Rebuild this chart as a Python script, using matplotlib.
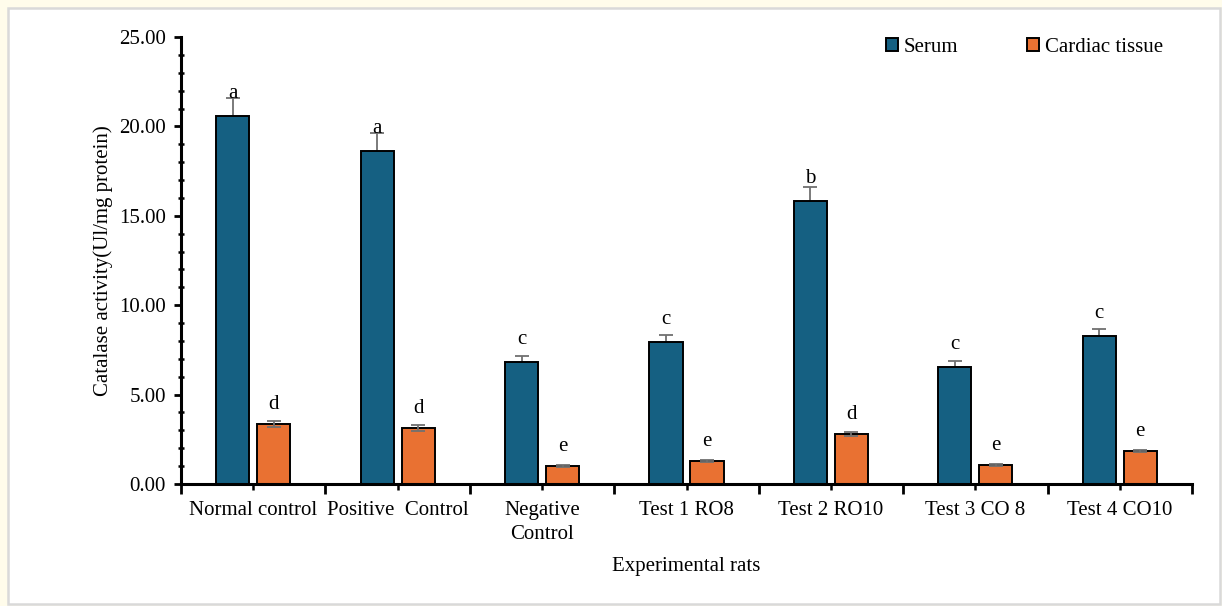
import matplotlib.pyplot as plt
import numpy as np
from matplotlib.ticker import MultipleLocator, FixedLocator, NullFormatter
from matplotlib.patches import Rectangle

categories = ["Normal control", "Positive  Control", "Negative\nControl", "Test 1 RO8",
              "Test 2 RO10", "Test 3 CO 8", "Test 4 CO10"]
serum = [20.58, 18.62, 6.82, 7.94, 15.83, 6.54, 8.28]
serum_err = [1.00, 1.00, 0.35, 0.40, 0.78, 0.35, 0.40]
cardiac = [3.36, 3.13, 1.00, 1.29, 2.80, 1.06, 1.85]
cardiac_err = [0.15, 0.15, 0.05, 0.07, 0.12, 0.05, 0.07]
serum_letters = ["a", "a", "c", "c", "b", "c", "c"]
cardiac_letters = ["d", "d", "e", "e", "d", "e", "e"]

plt.rcParams['font.family'] = ['Liberation Serif', 'DejaVu Serif']
FS = 15

W, H = 1222, 606
fig = plt.figure(figsize=(W / 100, H / 100), dpi=100, facecolor="#FFFCEB")
# white panel with a light grey frame
panel = Rectangle((8 / W, 2 / H), 1212 / W, 596 / H, transform=fig.transFigure,
                  facecolor="white", edgecolor="#D9D9D9", linewidth=1.8, zorder=-5)
fig.add_artist(panel)

ax = fig.add_axes([181 / W, 1 - 484 / H, (1192 - 181) / W, (484 - 37) / H])
ax.set_zorder(2)
ax.set_facecolor("none")

x = np.arange(len(categories))
off, bw = 0.142, 0.23
c_serum, c_card = "#156082", "#E97132"
err_kw = dict(fmt="none", ecolor="#707070", elinewidth=1.3, capsize=5, capthick=1.3)
ax.errorbar(x - off, serum, yerr=serum_err, zorder=1, **err_kw)
ax.bar(x - off, serum, bw, color=c_serum, edgecolor="black", linewidth=1.4, label="Serum", zorder=2)
ax.bar(x + off, cardiac, bw, color=c_card, edgecolor="black", linewidth=1.4, label="Cardiac tissue", zorder=2)
ax.errorbar(x + off, cardiac, yerr=cardiac_err, zorder=3, **err_kw)

for xi, v, lab in zip(x - off, serum, serum_letters):
    ax.text(xi, v + 1.25, lab, ha="center", va="center", fontsize=FS, zorder=4)
for xi, v, lab in zip(x + off, cardiac, cardiac_letters):
    ax.text(xi, v + 1.1, lab, ha="center", va="center", fontsize=FS, zorder=4)

ax.set_xlim(-0.5, len(categories) - 0.5)
ax.set_ylim(0, 25)
ax.set_yticks(np.arange(0, 26, 5))
ax.set_yticklabels([f"{v:.2f}" for v in np.arange(0, 26, 5)])
ax.yaxis.set_minor_locator(MultipleLocator(1))

ax.xaxis.set_major_locator(FixedLocator(np.arange(-0.5, len(categories), 1.0)))
ax.xaxis.set_major_formatter(NullFormatter())
ax.set_xticks(x, categories, minor=True)

ax.tick_params(axis="y", which="major", direction="out", length=5, width=2, labelsize=FS, pad=6)
ax.tick_params(axis="y", which="minor", direction="inout", length=5, width=1.8)
ax.tick_params(axis="x", which="major", direction="out", length=7, width=2)
ax.tick_params(axis="x", which="minor", direction="out", length=4, width=1.8, labelsize=FS, pad=8)
for lab in ax.get_xticklabels(minor=True):
    lab.set_linespacing(1.4)

for s in ["top", "right"]:
    ax.spines[s].set_visible(False)
for s in ["left", "bottom"]:
    ax.spines[s].set_linewidth(2.2)

ax.set_ylabel("Catalase activity(Ul/mg protein)", fontsize=FS, labelpad=4)
ax.set_xlabel("Experimental rats", fontsize=FS, labelpad=9)

ax.legend(loc="upper right", bbox_to_anchor=(0.990, 1.04), ncol=2, frameon=False, fontsize=FS,
          handlelength=0.55, handleheight=0.55, handletextpad=0.3, columnspacing=3.3)

fig.savefig("out.png", dpi=100, facecolor=fig.get_facecolor())
